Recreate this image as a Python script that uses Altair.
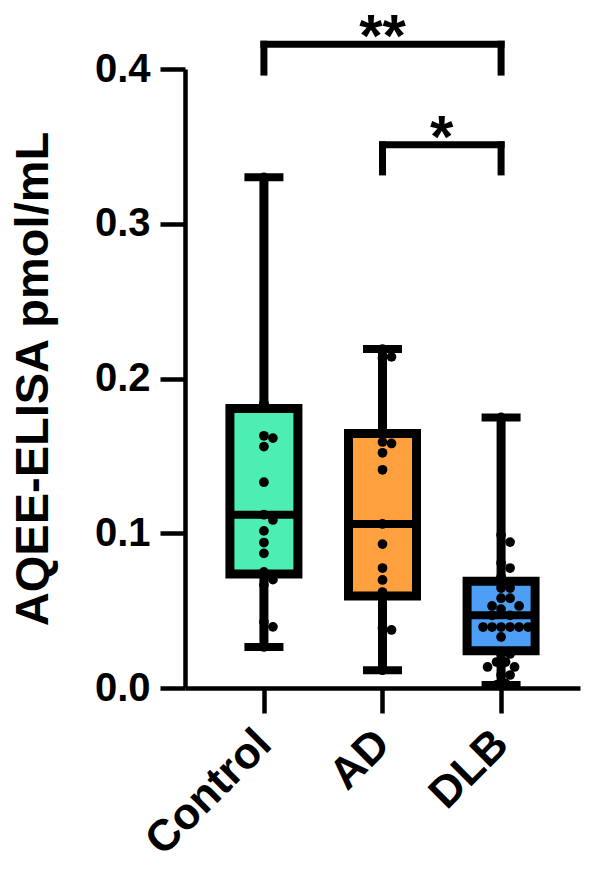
import altair as alt
import pandas as pd

# ---- data -------------------------------------------------------------
groups = ["Control", "AD", "DLB"]
fill_colors = ["#4CEFB1", "#FFA03F", "#4D9FF5"]

whisker_low = [0.0265, 0.0115, 0.002]
q1 = [0.0737, 0.0595, 0.024]
median = [0.112, 0.106, 0.047]
q3 = [0.1806, 0.1645, 0.069]
whisker_high = [0.330, 0.219, 0.1748]

control_values = [0.330, 0.184, 0.163, 0.1615, 0.156, 0.133, 0.112, 0.1086,
                  0.1015, 0.094, 0.087, 0.075, 0.070, 0.0665, 0.0427, 0.0395,
                  0.0265]
ad_values = [0.219, 0.214, 0.213, 0.159, 0.158, 0.152, 0.141, 0.106, 0.093,
             0.0775, 0.0698, 0.062, 0.0388, 0.0375, 0.0115]
dlb_values = [0.1748, 0.0989, 0.0943, 0.0808, 0.0775, 0.072, 0.0646, 0.0646,
              0.058, 0.058, 0.053, 0.053, 0.051, 0.047, 0.047,
              0.0394, 0.0394, 0.0394, 0.0394, 0.0394, 0.0394, 0.033,
              0.022, 0.022, 0.0168, 0.0168, 0.0136, 0.0136, 0.0084, 0.0084,
              0.003, 0.002]

# significance brackets: from group index, to group index, height, label
bracket_from = [0, 1]
bracket_to = [2, 2]
bracket_height = [0.416, 0.351]
bracket_drop = [0.018, 0.0175]
bracket_labels = ["**", "*"]

y_ticks = [0.0, 0.1, 0.2, 0.3, 0.4]

# ---- geometry ---------------------------------------------------------
PLOT_W, PLOT_H = 395, 619
X_MIN, X_MAX = -0.6655, 2.6655
Y_MAX = 0.4
PX_X = PLOT_W / (X_MAX - X_MIN)
PX_Y = PLOT_H / Y_MAX
BOX_HALF = 34 / PX_X
CAP_HALF = 19.5 / PX_X
DOT_GAP = 9.0  # minimum centre distance between dots, px

FONT = "Liberation Sans"


def swarm_offsets(values):
    """Beeswarm: shift each dot sideways until it clears the ones placed."""
    placed = []
    offsets = []
    for v in values:
        y = v * PX_Y
        k = 0
        while True:
            step = (k + 1) // 2
            cand = step * DOT_GAP * 0.5 * (1 if k % 2 == 1 else -1)
            if all((cand - px) ** 2 + (y - py) ** 2 >= DOT_GAP ** 2
                   for px, py in placed):
                break
            k += 1
        placed.append((cand, y))
        offsets.append(cand / PX_X)
    return offsets


summary = pd.DataFrame({
    "group": groups,
    "pos": list(range(len(groups))),
    "lo": whisker_low,
    "q1": q1,
    "med": median,
    "q3": q3,
    "hi": whisker_high,
})

dot_rows = []
for i, vals in enumerate([control_values, ad_values, dlb_values]):
    for v, off in zip(vals, swarm_offsets(vals)):
        dot_rows.append({"group": groups[i], "x": i + off, "value": v})
dots = pd.DataFrame(dot_rows)

brackets = pd.DataFrame({
    "a": bracket_from,
    "b": bracket_to,
    "h": bracket_height,
    "leg": [h - d for h, d in zip(bracket_height, bracket_drop)],
    "mid": [(a + b) / 2 for a, b in zip(bracket_from, bracket_to)],
    "label": bracket_labels,
})

label_expr = "[" + ",".join(f"'{g}'" for g in groups) + "][datum.value]"

x_scale = alt.Scale(domain=[X_MIN, X_MAX], nice=False, zero=False)
y_scale = alt.Scale(domain=[0, Y_MAX], nice=False)

x_axis = alt.Axis(
    values=list(range(len(groups))), labelExpr=label_expr, title=None,
    grid=False, domainColor="black", domainWidth=4.5, tickColor="black",
    tickWidth=4.5, tickSize=25, labelAngle=-45, labelAlign="right",
    labelBaseline="middle", labelPadding=24, labelFont=FONT,
    labelFontSize=44, labelFontWeight="bold", labelColor="black",
)
y_axis = alt.Axis(
    values=y_ticks, format=".1f", title="AQEE-ELISA pmol/mL", grid=False,
    domainColor="black", domainWidth=4.5, tickColor="black", tickWidth=4.5,
    tickSize=25, labelPadding=10, labelFont=FONT, labelFontSize=40,
    labelFontWeight="bold", labelColor="black", titleFont=FONT,
    titleFontSize=47, titleFontWeight="bold", titleColor="black",
    titleX=-138, titleY=PLOT_H / 2, titleAlign="center",
    titleBaseline="alphabetic", titleAngle=270,
)

base = alt.Chart(summary)

whiskers = base.mark_rule(color="black", strokeWidth=9).encode(
    x=alt.X("pos:Q", scale=x_scale, axis=x_axis),
    y=alt.Y("lo:Q", scale=y_scale, axis=y_axis),
    y2="hi:Q",
)

caps_hi = base.transform_calculate(
    xa=f"datum.pos - {CAP_HALF}", xb=f"datum.pos + {CAP_HALF}"
).mark_rule(color="black", strokeWidth=8).encode(
    x="xa:Q", x2="xb:Q", y="hi:Q"
)
caps_lo = base.transform_calculate(
    xa=f"datum.pos - {CAP_HALF}", xb=f"datum.pos + {CAP_HALF}"
).mark_rule(color="black", strokeWidth=8).encode(
    x="xa:Q", x2="xb:Q", y="lo:Q"
)

boxes = base.transform_calculate(
    xa=f"datum.pos - {BOX_HALF}", xb=f"datum.pos + {BOX_HALF}"
).mark_rect(stroke="black", strokeWidth=9).encode(
    x="xa:Q", x2="xb:Q", y="q1:Q", y2="q3:Q",
    fill=alt.Fill("group:N", scale=alt.Scale(domain=groups, range=fill_colors),
                  legend=None),
)

medians = base.transform_calculate(
    xa=f"datum.pos - {BOX_HALF}", xb=f"datum.pos + {BOX_HALF}"
).mark_rule(color="black", strokeWidth=8).encode(
    x="xa:Q", x2="xb:Q", y="med:Q"
)

points = alt.Chart(dots).mark_circle(color="black", opacity=1, size=95).encode(
    x="x:Q", y="value:Q"
)

bk = alt.Chart(brackets)
bracket_top = bk.mark_rule(color="black", strokeWidth=7, strokeCap="square").encode(
    x="a:Q", x2="b:Q", y="h:Q"
)
bracket_left = bk.mark_rule(color="black", strokeWidth=7, strokeCap="square").encode(
    x="a:Q", y="h:Q", y2="leg:Q"
)
bracket_right = bk.mark_rule(color="black", strokeWidth=7, strokeCap="square").encode(
    x="b:Q", y="h:Q", y2="leg:Q"
)
stars = bk.mark_text(
    font=FONT, fontSize=60, fontWeight="bold", color="black",
    baseline="alphabetic", align="center", dy=12,
).encode(x="mid:Q", y="h:Q", text="label:N")

chart = alt.layer(
    whiskers, caps_hi, caps_lo, boxes, medians, points,
    bracket_top, bracket_left, bracket_right, stars,
).properties(
    width=PLOT_W, height=PLOT_H,
    autosize=alt.AutoSizeParams(type="none"),
    padding={"left": 185, "top": 69, "right": 10, "bottom": 184},
    background="white",
).configure_view(stroke=None)

chart.save("out.html", embed_options={"renderer": "svg", "actions": False})
